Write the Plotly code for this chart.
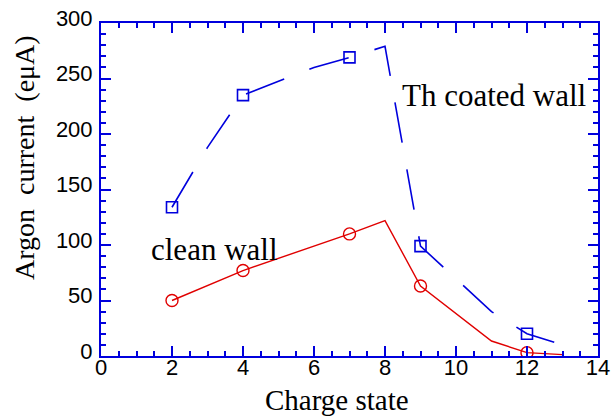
import plotly.graph_objects as go

# Th coated wall (blue) — line points and marker points
th_x = [2, 3, 4, 6, 7, 8, 9, 11, 12, 13]
th_y = [134, 188, 235, 260, 269, 279, 99, 40, 20, 10]
th_mx = [2, 4, 7, 9, 12]
th_my = [134, 235, 269, 99, 20]

# clean wall (red)
cl_x = [2, 4, 7, 8, 9, 11, 12, 13]
cl_y = [50, 77, 110, 122, 63, 13.5, 3, 1.2]
cl_mx = [2, 4, 7, 9, 12]
cl_my = [50, 77, 110, 63, 3]

BLUE = "#0000dd"
RED = "#e00000"

W, H = 611, 419
pl, pr, pt, pb = 101, 13, 23, 63
pw, ph = W - pl - pr, H - pt - pb

fig = go.Figure()
fig.add_trace(go.Scatter(x=th_x, y=th_y, mode="lines",
                         line=dict(color=BLUE, width=1.6, dash="41px,27px"),
                         showlegend=False, hoverinfo="skip"))
fig.add_trace(go.Scatter(x=th_mx, y=th_my, mode="markers",
                         marker=dict(symbol="square-open", size=11, color=BLUE,
                                     line=dict(width=1.6, color=BLUE)),
                         showlegend=False))
fig.add_trace(go.Scatter(x=cl_x, y=cl_y, mode="lines",
                         line=dict(color=RED, width=1.4),
                         showlegend=False, hoverinfo="skip"))
fig.add_trace(go.Scatter(x=cl_mx, y=cl_my, mode="markers",
                         marker=dict(symbol="circle-open", size=12, color=RED,
                                     line=dict(width=1.4, color=RED)),
                         showlegend=False))

axis_common = dict(
    showgrid=False, zeroline=False, showline=True, linecolor=BLUE, linewidth=2,
    mirror="allticks", ticks="inside", tickcolor=BLUE, tickwidth=2, ticklen=10,
    tickfont=dict(family="Liberation Sans, Arial", size=22, color="black"),
    automargin=False,
)

fig.update_xaxes(range=[0, 14], dtick=2, tick0=0,
                 minor=dict(dtick=0.5, ticks="inside", ticklen=5, tickcolor=BLUE, tickwidth=1.5),
                 ticklabelstandoff=-9, **axis_common)
fig.update_yaxes(range=[0, 300], dtick=50, tick0=0,
                 minor=dict(dtick=10, ticks="inside", ticklen=5, tickcolor=BLUE, tickwidth=1.5),
                 ticklabelstandoff=2, ticklabelshift=-5, **axis_common)

serif31 = dict(family="Liberation Serif, Times New Roman", size=31, color="black")
serif29 = dict(family="Liberation Serif, Times New Roman", size=29, color="black")
serif28 = dict(family="Liberation Serif, Times New Roman", size=28, color="black")

fig.add_annotation(text="Th coated wall", x=11.08, y=235, xref="x", yref="y",
                   xanchor="center", yanchor="middle", showarrow=False, font=serif31)
fig.add_annotation(text="clean wall", x=3.21, y=96, xref="x", yref="y",
                   xanchor="center", yanchor="middle", showarrow=False, font=serif31)


def px2paper(px, py):
    return (px - pl) / pw, 1 - (py - pt) / ph


cx, cy = px2paper(337, 400)
fig.add_annotation(text="Charge state", x=cx, y=cy, xref="paper", yref="paper",
                   xanchor="center", yanchor="middle", showarrow=False, font=serif29)
tx, ty = px2paper(24, 158)
fig.add_annotation(text="Argon  current  (eμA)", textangle=-90,
                   x=tx, y=ty, xref="paper", yref="paper",
                   xanchor="center", yanchor="middle", showarrow=False, font=serif28)

fig.update_layout(
    width=W, height=H,
    margin=dict(l=pl, r=pr, t=pt, b=pb),
    paper_bgcolor="white", plot_bgcolor="white",
)

fig.write_html("out.html")
